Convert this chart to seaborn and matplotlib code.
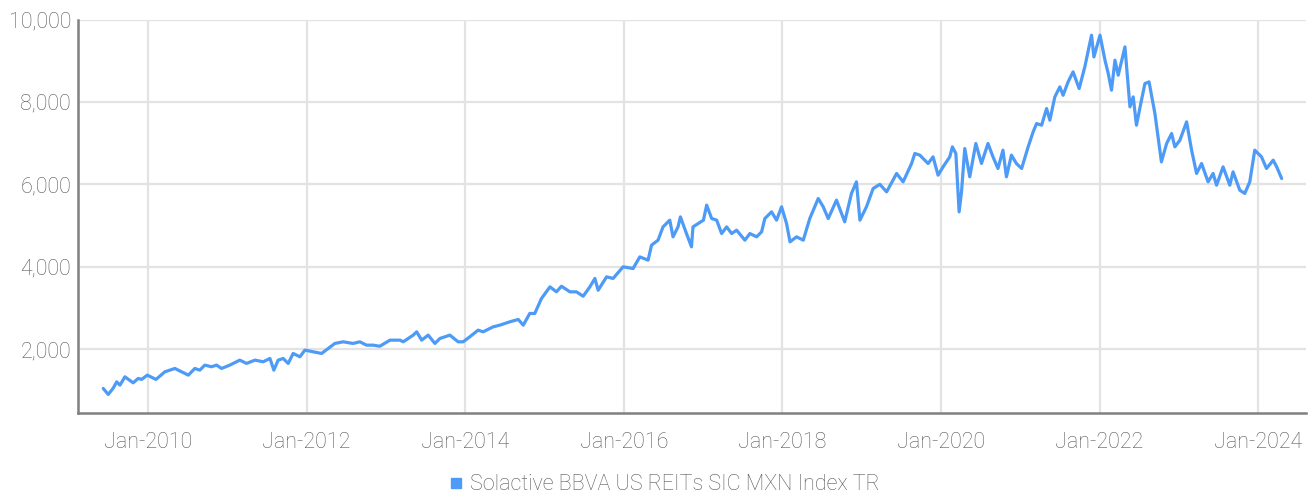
import pandas as pd
import matplotlib
matplotlib.use("Agg")
import matplotlib.pyplot as plt
import matplotlib.dates as mdates
from matplotlib.ticker import FuncFormatter
from matplotlib.lines import Line2D
import seaborn as sns

# values
dates = [
    "2009-06-08", "2009-07-01", "2009-07-24", "2009-08-09", "2009-08-24", "2009-09-16",
    "2009-10-24", "2009-11-16", "2009-12-02", "2009-12-28", "2010-02-06", "2010-03-19",
    "2010-05-04", "2010-06-04", "2010-07-05", "2010-08-04", "2010-08-27", "2010-09-19",
    "2010-10-20", "2010-11-12", "2010-12-05", "2011-01-12", "2011-02-27", "2011-03-30",
    "2011-05-08", "2011-06-15", "2011-07-16", "2011-08-03", "2011-08-23", "2011-09-15",
    "2011-10-08", "2011-10-31", "2011-12-01", "2011-12-24", "2012-01-31", "2012-03-10",
    "2012-04-09", "2012-05-10", "2012-06-17", "2012-08-02", "2012-09-02", "2012-10-03",
    "2012-11-02", "2012-12-03", "2013-01-19", "2013-03-06", "2013-03-21", "2013-05-06",
    "2013-05-22", "2013-06-14", "2013-07-14", "2013-08-14", "2013-09-06", "2013-10-22",
    "2013-11-29", "2013-12-22", "2014-01-22", "2014-03-01", "2014-03-24", "2014-05-09",
    "2014-06-09", "2014-07-25", "2014-09-02", "2014-09-25", "2014-10-25", "2014-11-17",
    "2014-12-18", "2015-01-26", "2015-02-25", "2015-03-20", "2015-04-28", "2015-05-28",
    "2015-06-28", "2015-07-29", "2015-08-21", "2015-09-05", "2015-10-14", "2015-11-13",
    "2015-12-29", "2016-02-13", "2016-03-15", "2016-04-22", "2016-05-08", "2016-06-07",
    "2016-06-30", "2016-07-31", "2016-08-15", "2016-09-07", "2016-09-18", "2016-10-16",
    "2016-11-08", "2016-11-15", "2017-01-02", "2017-01-17", "2017-02-09", "2017-03-04",
    "2017-03-27", "2017-04-19", "2017-05-12", "2017-06-04", "2017-07-12", "2017-08-04",
    "2017-09-04", "2017-09-27", "2017-10-12", "2017-11-12", "2017-12-05", "2017-12-28",
    "2018-01-20", "2018-02-05", "2018-03-07", "2018-04-07", "2018-05-07", "2018-06-15",
    "2018-07-08", "2018-07-31", "2018-09-07", "2018-10-15", "2018-11-15", "2018-12-08",
    "2018-12-24", "2019-01-23", "2019-02-23", "2019-03-26", "2019-04-26", "2019-06-11",
    "2019-07-11", "2019-08-19", "2019-09-03", "2019-09-26", "2019-11-03", "2019-11-26",
    "2019-12-19", "2020-01-11", "2020-02-11", "2020-02-23", "2020-03-10", "2020-03-25",
    "2020-04-05", "2020-04-20", "2020-05-13", "2020-06-10", "2020-07-06", "2020-08-05",
    "2020-08-28", "2020-09-20", "2020-10-13", "2020-10-29", "2020-11-21", "2020-12-14",
    "2021-01-07", "2021-02-06", "2021-03-01", "2021-03-17", "2021-04-09", "2021-05-02",
    "2021-05-17", "2021-06-09", "2021-07-02", "2021-07-17", "2021-08-09", "2021-09-01",
    "2021-09-29", "2021-10-25", "2021-11-25", "2021-12-06", "2022-01-03", "2022-01-26",
    "2022-02-10", "2022-02-25", "2022-03-13", "2022-03-28", "2022-04-28", "2022-05-21",
    "2022-06-05", "2022-06-20", "2022-07-13", "2022-07-29", "2022-08-17", "2022-09-13",
    "2022-10-13", "2022-11-06", "2022-11-29", "2022-12-14", "2023-01-06", "2023-02-06",
    "2023-03-01", "2023-03-24", "2023-04-16", "2023-05-16", "2023-06-08", "2023-06-24",
    "2023-07-24", "2023-08-24", "2023-09-08", "2023-10-09", "2023-11-01", "2023-11-24",
    "2023-12-17", "2024-01-17", "2024-02-09", "2024-03-11", "2024-03-27", "2024-04-19",
]
index_values = [
    1046, 900, 1053, 1206, 1126, 1328,
    1182, 1289, 1265, 1369, 1265, 1450,
    1531, 1450, 1369, 1531, 1490, 1612,
    1572, 1612, 1531, 1612, 1733, 1653,
    1733, 1693, 1774, 1490, 1733, 1774,
    1653, 1895, 1814, 1976, 1935, 1895,
    2016, 2138, 2178, 2138, 2178, 2097,
    2097, 2070, 2218, 2218, 2178, 2340,
    2420, 2218, 2340, 2138, 2259, 2340,
    2178, 2178, 2300, 2461, 2420, 2541,
    2582, 2663, 2721, 2582, 2866, 2866,
    3230, 3512, 3391, 3527, 3391, 3391,
    3285, 3512, 3716, 3430, 3755, 3716,
    3998, 3957, 4240, 4160, 4524, 4645,
    4968, 5131, 4726, 4968, 5211, 4806,
    4483, 4968, 5131, 5495, 5171, 5131,
    4806, 4968, 4806, 4887, 4645, 4806,
    4726, 4847, 5171, 5332, 5131, 5454,
    5050, 4604, 4726, 4645, 5171, 5657,
    5454, 5171, 5616, 5090, 5779, 6061,
    5131, 5454, 5900, 6000, 5818, 6264,
    6061, 6506, 6749, 6709, 6506, 6668,
    6223, 6425, 6668, 6910, 6749, 5332,
    5818, 6870, 6183, 6992, 6506, 6992,
    6668, 6385, 6830, 6183, 6709, 6506,
    6385, 6910, 7274, 7476, 7436, 7841,
    7557, 8123, 8366, 8163, 8487, 8730,
    8325, 8851, 9621, 9094, 9621, 9014,
    8690, 8286, 9014, 8649, 9337, 7881,
    8123, 7436, 8042, 8447, 8487, 7719,
    6546, 6992, 7233, 6910, 7071, 7517,
    6830, 6264, 6506, 6061, 6264, 5980,
    6425, 5980, 6304, 5859, 5779, 6061,
    6830, 6668, 6385, 6587, 6425, 6142,
]
series_name = "Solactive BBVA US REITs SIC MXN Index TR"
tick_years = [2010, 2012, 2014, 2016, 2018, 2020, 2022, 2024]
y_ticks = [2000, 4000, 6000, 8000, 10000]

LINE = "#4d9bf7"
TEXT = "#595959"
GRID = "#e3e3e3"
AXIS = "#808080"

sns.set_theme(style="whitegrid")
plt.rcParams["font.family"] = ["Roboto", "DejaVu Sans"]
plt.rcParams["font.weight"] = "light"

df = pd.DataFrame({"date": pd.to_datetime(dates), "value": index_values})

fig = plt.figure(figsize=(13.14, 4.98), dpi=100)
ax = fig.add_axes([0.0594, 0.1707, 0.9345, 0.790])

sns.lineplot(data=df, x="date", y="value", color=LINE, linewidth=2.3, ax=ax)

ax.set_xlim(pd.Timestamp("2009-02-12"), pd.Timestamp("2024-08-09"))
ax.set_ylim(450, 10000)
ax.set_xticks([pd.Timestamp(f"{y}-01-01") for y in tick_years])
ax.xaxis.set_major_formatter(mdates.DateFormatter("%b-%Y"))
ax.set_yticks(y_ticks)
ax.yaxis.set_major_formatter(FuncFormatter(lambda v, p: f"{int(v):,}"))

ax.grid(True, color=GRID, linewidth=1.6)
ax.set_xlabel("")
ax.set_ylabel("")
ax.tick_params(axis="both", length=0, labelsize=15.5, labelcolor=TEXT)
ax.tick_params(axis="x", pad=14)
ax.tick_params(axis="y", pad=5)

for side in ["top", "right"]:
    ax.spines[side].set_visible(False)
for side in ["left", "bottom"]:
    ax.spines[side].set_visible(True)
    ax.spines[side].set_color(AXIS)
    ax.spines[side].set_linewidth(1.8)

handle = Line2D([], [], marker="s", linestyle="none", markersize=7,
                markerfacecolor=LINE, markeredgecolor=LINE)
fig.legend([handle], [series_name], loc="center", bbox_to_anchor=(0.505, 0.027),
           frameon=False, fontsize=15.5, labelcolor=TEXT, handlelength=0.7,
           handletextpad=0.3, borderaxespad=0)

fig.savefig("out.png", dpi=100)
plt.close(fig)
